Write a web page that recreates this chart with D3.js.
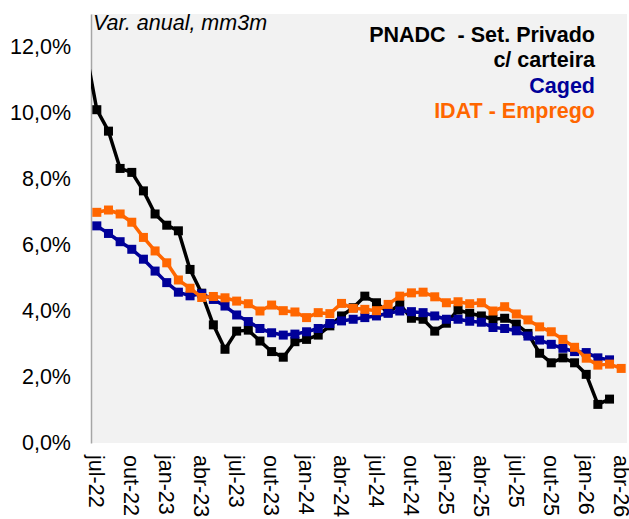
<!DOCTYPE html>
<html>
<head>
<meta charset="utf-8">
<script src="https://cdn.jsdelivr.net/npm/d3@7"></script>
<style>
  body { margin: 0; background: #fff; }
  text { font-family: "Liberation Sans", Arial, sans-serif; }
</style>
</head>
<body>
<div id="chart"></div>
<script>
// meses (jun-22 so aparece cortado na borda esquerda)
var months = ['jun-22','jul-22','ago-22','set-22','out-22','nov-22','dez-22',
  'jan-23','fev-23','mar-23','abr-23','mai-23','jun-23','jul-23','ago-23','set-23','out-23','nov-23','dez-23',
  'jan-24','fev-24','mar-24','abr-24','mai-24','jun-24','jul-24','ago-24','set-24','out-24','nov-24','dez-24',
  'jan-25','fev-25','mar-25','abr-25','mai-25','jun-25','jul-25','ago-25','set-25','out-25','nov-25','dez-25',
  'jan-26','fev-26','mar-26','abr-26'];

var tickLabels = ['jul-22','out-22','jan-23','abr-23','jul-23','out-23','jan-24','abr-24',
  'jul-24','out-24','jan-25','abr-25','jul-25','out-25','jan-26','abr-26'];

var yTicks = [0, 2, 4, 6, 8, 10, 12];

var pnadc = [12.0, 10.1, 9.45, 8.32, 8.2, 7.64, 6.94, 6.6, 6.43, 5.26, 4.54,
  3.58, 2.84, 3.39, 3.42, 3.09, 2.77, 2.6, 3.07, 3.14, 3.27, 3.55, 3.85,
  4.1, 4.45, 4.25, 3.95, 4.2, 3.78, 3.75, 3.39, 3.63, 4.03, 3.93, 3.85,
  3.75, 3.78, 3.6, 3.32, 2.72, 2.43, 2.58, 2.43, 2.08, 1.17, 1.33, null];

var caged = [null, 6.58, 6.35, 6.1, 5.87, 5.57, 5.21, 4.86, 4.57, 4.46, 4.52,
  4.35, 4.15, 3.88, 3.68, 3.47, 3.34, 3.27, 3.3, 3.37, 3.47, 3.62, 3.7,
  3.75, 3.8, 3.85, 3.93, 4.0, 3.98, 3.95, 3.85, 3.75, 3.75, 3.69, 3.66,
  3.5, 3.47, 3.4, 3.24, 3.12, 2.99, 2.87, 2.77, 2.74, 2.58, 2.52, null];

var idat = [null, 6.99, 7.06, 6.94, 6.69, 6.23, 5.82, 5.46, 4.94, 4.69, 4.41,
  4.44, 4.4, 4.3, 4.22, 4.0, 4.18, 4.01, 3.97, 3.8, 3.95, 3.92, 4.23,
  4.08, 4.05, 4.01, 4.2, 4.45, 4.55, 4.57, 4.43, 4.25, 4.28, 4.22, 4.25,
  4.0, 4.13, 3.91, 3.73, 3.52, 3.37, 3.14, 2.9, 2.57, 2.36, 2.39, 2.26];

var series = [
  {name: 'pnadc', values: pnadc, color: '#000000'},
  {name: 'caged', values: caged, color: '#000099'},
  {name: 'idat', values: idat, color: '#ff6600'}
];

const width = 629;
const height = 519;
const plotL = 91, plotR = 627, plotT = 14, plotB = 443;

const svg = d3.select('#chart')
  .append('svg')
  .attr('width', width)
  .attr('height', height);

svg.append('rect')
  .attr('x', plotL)
  .attr('y', plotT)
  .attr('width', plotR - plotL)
  .attr('height', plotB - plotT)
  .attr('fill', '#f2f2f2');

svg.append('clipPath')
  .attr('id', 'plot')
  .append('rect')
  .attr('x', plotL)
  .attr('y', plotT)
  .attr('width', plotR - plotL)
  .attr('height', plotB - plotT);

// uma categoria por mes, jul-22 no primeiro slot
var x = d3.scaleLinear()
  .domain([0.5, months.length - 0.5])
  .range([plotL, plotR]);

var y = d3.scaleLinear()
  .domain([0, 13])
  .range([plotB, plotT]);

var yAxis = svg.append('g')
  .attr('transform', 'translate(' + plotL + ',0)')
  .call(d3.axisLeft(y)
    .tickValues(yTicks)
    .tickSize(0)
    .tickPadding(20)
    .tickFormat(function(d) { return d.toFixed(1).replace('.', ',') + '%'; }));
yAxis.select('.domain').attr('stroke', '#a6a6a6').attr('stroke-width', 1.5);
yAxis.selectAll('text')
  .attr('font-size', '21.5px')
  .attr('font-family', '"Liberation Sans", Arial, sans-serif')
  .attr('fill', '#000');

svg.selectAll('.xlab')
  .data(tickLabels)
  .enter()
  .append('text')
  .attr('class', 'xlab')
  .attr('transform', function(d) {
    return 'translate(' + x(months.indexOf(d)) + ',455) rotate(90)';
  })
  .attr('dy', '0.35em')
  .attr('font-size', '21.5px')
  .text(function(d) { return d; });

var line = d3.line()
  .defined(function(d) { return d != null; })
  .x(function(d, i) { return x(i); })
  .y(function(d) { return y(d); });

var plot = svg.append('g').attr('clip-path', 'url(#plot)');

series.forEach(function(s) {
  plot.append('path')
    .datum(s.values)
    .attr('d', line)
    .attr('fill', 'none')
    .attr('stroke', s.color)
    .attr('stroke-width', 3.5)
    .attr('stroke-linejoin', 'round');

  var pts = s.values.map(function(v, i) { return {v: v, i: i}; })
    .filter(function(d) { return d.v != null; });

  plot.selectAll('.m-' + s.name)
    .data(pts)
    .enter()
    .append('rect')
    .attr('x', function(d) { return x(d.i) - 4.5; })
    .attr('y', function(d) { return y(d.v) - 4.5; })
    .attr('width', 9)
    .attr('height', 9)
    .attr('fill', s.color);
});

svg.append('text')
  .attr('x', 93)
  .attr('y', 30)
  .attr('font-size', '21.5px')
  .attr('font-style', 'italic')
  .text('Var. anual, mm3m');

var legend = [
  {text: 'PNADC  - Set. Privado', color: '#000000', y: 41.5},
  {text: 'c/ carteira', color: '#000000', y: 67},
  {text: 'Caged', color: '#000099', y: 92.5},
  {text: 'IDAT - Emprego', color: '#ff6600', y: 118}
];

svg.selectAll('.leg')
  .data(legend)
  .enter()
  .append('text')
  .attr('class', 'leg')
  .attr('x', 595)
  .attr('y', function(d) { return d.y; })
  .attr('text-anchor', 'end')
  .attr('font-size', '21.5px')
  .attr('font-weight', 'bold')
  .attr('fill', function(d) { return d.color; })
  .style('white-space', 'pre')
  .text(function(d) { return d.text; });
</script>
</body>
</html>
